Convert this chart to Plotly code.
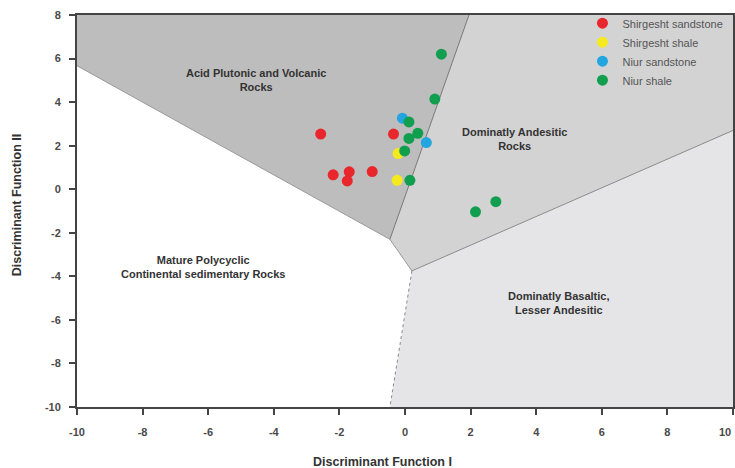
import plotly.graph_objects as go

# Sample scores (Discriminant Function I, Discriminant Function II)
shirgesht_sandstone_x = [-2.57, -0.35, -2.19, -1.70, -1.76, -1.00]
shirgesht_sandstone_y = [2.53, 2.53, 0.66, 0.80, 0.38, 0.81]
shirgesht_shale_x = [-0.21, -0.24]
shirgesht_shale_y = [1.64, 0.41]
niur_sandstone_x = [-0.08, 0.65]
niur_sandstone_y = [3.26, 2.14]
niur_shale_x = [1.11, 0.91, 0.12, 0.39, 0.12, -0.01, 0.15, 2.15, 2.77]
niur_shale_y = [6.20, 4.14, 3.09, 2.57, 2.33, 1.76, 0.41, -1.04, -0.57]

# Provenance field outlines
acid_x = [-10, 1.95, -0.46, -10, -10]
acid_y = [8, 8, -2.30, 5.67, 8]
andesitic_x = [1.95, 10, 10, 0.21, -0.46, 1.95]
andesitic_y = [8, 8, 2.70, -3.75, -2.30, 8]
basaltic_x = [0.21, 10, 10, -0.46, 0.21]
basaltic_y = [-3.75, 2.70, -10, -10, -3.75]

# Field boundaries
b_left_x, b_left_y = [-10, -0.46], [5.67, -2.30]
b_acid_x, b_acid_y = [-0.46, 1.95], [-2.30, 8]
b_mid_x, b_mid_y = [-0.46, 0.21], [-2.30, -3.75]
b_right_x, b_right_y = [0.21, 10], [-3.75, 2.70]
b_low_x, b_low_y = [0.21, -0.46], [-3.75, -10]

field_labels = ["Acid Plutonic and Volcanic<br>Rocks",
                "Dominatly Andesitic<br>Rocks",
                "Mature Polycyclic<br>Continental sedimentary Rocks",
                "Dominatly Basaltic,<br>Lesser Andesitic"]
field_label_x = [-4.53, 3.34, -6.17, 4.67]
field_label_y = [5.02, 2.29, -3.57, -5.23]

tick_vals = [-10, -8, -6, -4, -2, 0, 2, 4, 6, 8, 10]
tick_text = ["-10", "-8", "-6", "-4", "-2", "0", "2", "4", "6", "8", "10"]

FONT = "Liberation Sans, Arial, sans-serif"
L, R, T, B = 77, 0, 15, 61
PW, PH = 735 - L - R, 468 - T - B

fig = go.Figure()

for xs, ys, col in [(acid_x, acid_y, "#bdbdbd"),
                    (andesitic_x, andesitic_y, "#d3d3d4"),
                    (basaltic_x, basaltic_y, "#e5e5e7")]:
    fig.add_trace(go.Scatter(x=xs, y=ys, fill="toself", fillcolor=col,
                             mode="none", showlegend=False, hoverinfo="skip"))

for xs, ys, col, dash in [(b_left_x, b_left_y, "#9a9a9a", "solid"),
                          (b_acid_x, b_acid_y, "#777777", "solid"),
                          (b_mid_x, b_mid_y, "#9a9a9a", "solid"),
                          (b_right_x, b_right_y, "#8a8a8a", "solid"),
                          (b_low_x, b_low_y, "#8a8a8a", "dot")]:
    fig.add_trace(go.Scatter(x=xs, y=ys, mode="lines",
                             line=dict(color=col, width=1, dash=dash),
                             showlegend=False, hoverinfo="skip"))

series = [("Shirgesht sandstone", shirgesht_sandstone_x, shirgesht_sandstone_y, "#e8262b"),
          ("Shirgesht shale", shirgesht_shale_x, shirgesht_shale_y, "#f4ea1e"),
          ("Niur sandstone", niur_sandstone_x, niur_sandstone_y, "#23a6e0"),
          ("Niur shale", niur_shale_x, niur_shale_y, "#119e4f")]
for name, xs, ys, col in series:
    fig.add_trace(go.Scatter(x=xs, y=ys, mode="markers", name=name,
                             marker=dict(color=col, size=11, line=dict(width=0))))

for txt, lx, ly in zip(field_labels, field_label_x, field_label_y):
    fig.add_annotation(x=lx, y=ly, text=f"<b>{txt}</b>", showarrow=False,
                       font=dict(family=FONT, size=11, color="#333333"),
                       align="center")

# Last x tick label, kept inside the right edge of the figure
fig.add_annotation(x=tick_vals[-1], xref="x", yref="paper", y=(T + PH - 432) / PH,
                   xanchor="right", yanchor="middle", showarrow=False,
                   text=f"<b>{tick_text[-1]}</b>",
                   font=dict(family=FONT, size=11, color="#4a4a4a"))

fig.add_annotation(xref="paper", yref="paper", x=(383 - L) / PW, y=(T + PH - 462) / PH,
                   xanchor="center", yanchor="middle",
                   text="<b>Discriminant Function I</b>", showarrow=False,
                   font=dict(family=FONT, size=12.5, color="#333333"))
fig.add_annotation(xref="paper", yref="paper", x=(17 - L) / PW, y=(T + PH - 205) / PH,
                   xanchor="center", yanchor="middle",
                   text="<b>Discriminant Function II</b>", showarrow=False, textangle=-90,
                   font=dict(family=FONT, size=12.5, color="#333333"))

axis_common = dict(showgrid=False, zeroline=False, showline=True, linecolor="#444444",
                   linewidth=2, mirror=True, ticks="outside", ticklen=6, tickwidth=2,
                   tickcolor="#444444", tickvals=tick_vals, ticktext=tick_text,
                   tickfont=dict(family=FONT, size=11, color="#4a4a4a", weight="bold"))

fig.update_layout(
    width=735, height=468,
    margin=dict(l=L, r=R, t=T, b=B),
    paper_bgcolor="white", plot_bgcolor="white",
    xaxis=dict(range=[-10, 10], ticklabelstandoff=8, **axis_common),
    yaxis=dict(range=[-10, 8], ticklabelstandoff=6, **axis_common),
    legend=dict(x=(584 - L) / PW, y=1.016, xanchor="left", yanchor="top",
                bgcolor="rgba(0,0,0,0)", borderwidth=0, tracegroupgap=0,
                font=dict(family=FONT, size=11, color="#555555")),
    showlegend=True,
)

fig.write_html("out.html")
